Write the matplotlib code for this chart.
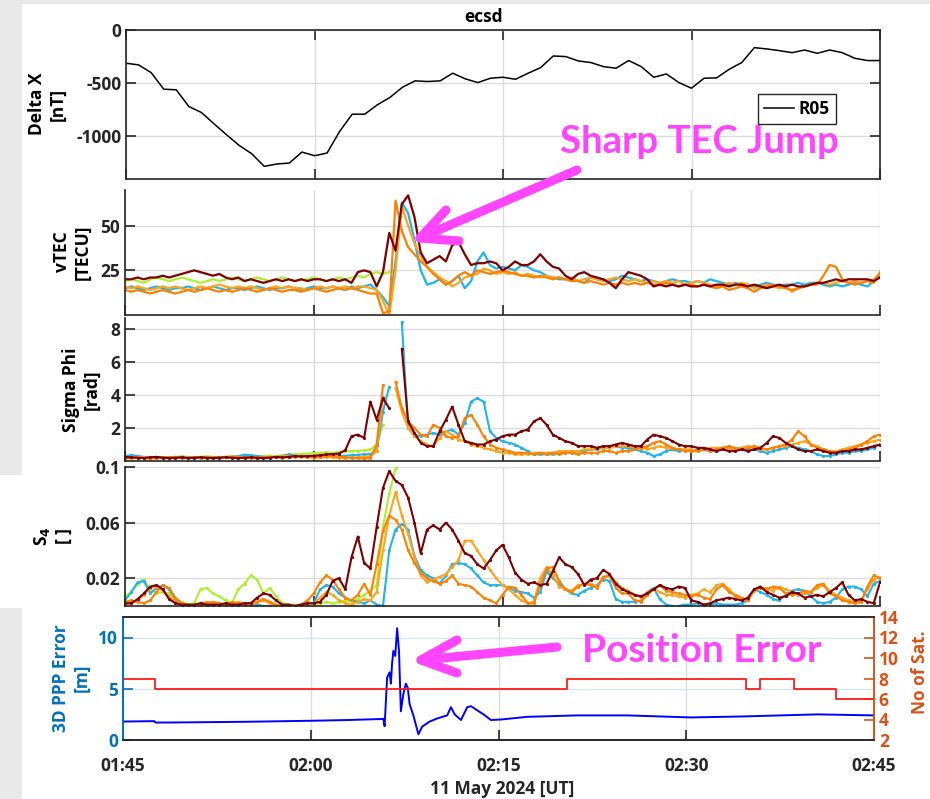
import numpy as np
import matplotlib
matplotlib.use("Agg")
import matplotlib.pyplot as plt
from matplotlib.lines import Line2D
from matplotlib.patches import Rectangle

plt.rcParams['font.family'] = ['Open Sans', 'DejaVu Sans']
plt.rcParams['font.weight'] = 'bold'
plt.rcParams['axes.unicode_minus'] = False

nan = np.nan

# ---------------- data ----------------
tick_minutes = [0, 15, 30, 45, 60]
tick_labels = ['01:45', '02:00', '02:15', '02:30', '02:45']

# magnetometer Delta X (nT), one value per minute from 01:45
dx_minutes = list(range(61))
dx_nT = [-312, -328, -400, -556, -562, -719, -775, -881, -984, -1084,
         -1162, -1281, -1259, -1250, -1147, -1181, -1156, -953, -791, -791,
         -703, -634, -538, -478, -484, -478, -406, -459, -494, -453,
         -444, -463, -406, -353, -244, -250, -291, -306, -344, -359,
         -287, -344, -444, -413, -494, -547, -453, -450, -369, -306,
         -166, -178, -194, -213, -188, -219, -188, -213, -266, -287, -287]

# satellite traces sampled every 30 s from 01:45
sample_minutes = np.arange(121) * 0.5

tec_green = [19, 20, 19, 18, 20, 21, 20, 19, 20, 21, 20, 19, 18, 19, 20, 19, 20, 21, 20, 19,
             20, 21, 20, 19, 20, 21, 20, 19, 20, 20, 21, 20, 19, 20, 21, 20, 21, 22, 21, 23,
             24, 23, 24] + [nan] * 78
tec_blue = [15, 16, 15, 14, 15, 16, 15, 14, 15, 15, 16, 15, 14, 15, 16, 15, 14, 15, 15, 14,
            15, 16, 15, 14, 15, 15, 16, 15, 14, 15, 16, 15, 15, 16, 15, 14, 16, 15, 16, 17,
            14, 10, 5, 30, 63, 57, 42, 25, 17, 18, 20, 17, 19, 22, 15, 19, 30, 35, 28, 26,
            27, 26, 25, 28, 27, 25, 24, 22, 21, 20, 20, 21, 19, 18, 21, 20, 20, 19, 20, 22,
            21, 20, 19, 20, 19, 18, 19, 20, 19, 19, 18, 19, 18, 20, 19, 18, 17, 18, 17, 17,
            16, 17, 18, 17, 16, 17, 17, 18, 17, 18, 18, 17, 16, 17, 16, 17, 18, 17, 16, 19, 22]
tec_orange_a = [14, 13, 14, 13, 12, 13, 14, 13, 12, 13, 14, 13, 14, 15, 14, 13, 14, 13, 14, 15,
                14, 13, 14, 15, 14, 13, 14, 14, 13, 14, 15, 14, 13, 14, 15, 14, 15, 14, 13, 12,
                12, 1, 2, 64, 47, 38, 34, 30, 27, 23, 20, 17, 19, 22, 24, 22, 25, 24, 23, 24,
                25, 24, 23, 22, 22, 21, 22, 21, 20, 21, 20, 19, 19, 18, 19, 18, 17, 18, 17, 18,
                17, 18, 17, 18, 17, 17, 18, 17, 16, 17, 17, 16, 17, 16, 15, 16, 14, 15, 16, 15,
                13, 15, 16, 17, 16, 15, 14, 15, 16, 17, 17, 22, 28, 27, 20, 18, 17, 18, 19, 18, 24]
tec_orange_b = [16, 15, 16, 15, 14, 15, 16, 15, 16, 15, 14, 15, 16, 15, 16, 17, 16, 15, 16, 15,
                16, 15, 14, 15, 16, 15, 16, 15, 15, 14, 15, 16, 15, 16, 15, 16, 15, 16, 16, 15,
                14, 8, 0, 25, 61, 50, 40, 33, 27, 24, 21, 19, 16, 18, 21, 22, 23, 26, 25, 23,
                24, 23, 24, 22, 23, 22, 21, 22, 21, 21, 20, 21, 19, 20, 21, 20, 19, 20, 21, 20,
                19, 20, 19, 18, 19, 18, 19, 18, 19, 17, 18, 19, 18, 17, 16, 17, 18, 17, 18, 17,
                15, 16, 17, 16, 15, 16, 13, 15, 16, 17, 18, 18, 17, 18, 19, 18, 19, 18, 19, 20, 23]
tec_darkred = [20, 20, 21, 20, 21, 21, 22, 21, 22, 23, 24, 25, 24, 23, 22, 23, 21, 20, 21, 19,
               20, 19, 18, 19, 20, 19, 20, 19, 20, 19, 20, 20, 19, 20, 19, 20, 18, 24, 25, 24,
               16, 24, 46, 36, 62, 67, 55, 35, 29, 31, 33, 30, 39, 41, 34, 28, 29, 29, 30, 29,
               25, 27, 30, 28, 28, 30, 34, 30, 27, 26, 22, 20, 23, 24, 22, 21, 20, 18, 15, 20,
               24, 23, 22, 20, 16, 17, 16, 17, 16, 17, 16, 16, 17, 16, 17, 17, 16, 17, 17, 16,
               17, 16, 15, 16, 17, 16, 17, 16, 16, 17, 18, 18, 19, 20, 19, 20, 20, 20, 20, 19, 21]

sig_green = [.25, .22, .20, .22, .25, .22, .20, .22, .25, .28, .25, .22, .25, .28, .25, .22, .25, .28, .30, .28,
             .30, .28, .30, .32, .30, .35, .38, .40, .42, .45, .48, .50, .52, .50, .55, .58, .60, .62, .65, .70,
             1.0, 2.2] + [nan] * 79
sig_blue = [.30, .35, .30, .25, .22, .25, .22, .20, .22, .25, .22, .20, .22, .20, .22, .25, .22, .25, .30, .38,
            .35, .30, .25, .22, .25, .30, .40, .32, .28, .25, .30, .32, .30, .28, .30, .32, .35, .38, .40, .42,
            .60, 3.0, 4.5, nan, 8.4, 2.0, 1.6, 1.5, 1.6, 1.7, 1.6, 1.8, 1.9, 1.6, 2.3, 3.6, 3.8, 3.6, 1.8, 1.4,
            1.2, 1.1, 1.0, 0.8, 0.6, 0.4, 0.4, 0.4, 0.4, 0.5, 0.5, 0.5, 0.6, 0.6, 0.7, 0.7, 0.8, 0.9, 0.9, 0.8,
            0.8, 0.7, 0.6, 0.5, 0.3, 0.4, 0.6, 0.7, 0.6, 0.7, 0.6, 0.7, 0.7, 0.6, 0.7, 0.8, 0.8, 0.7, 0.8, 0.7,
            0.7, 0.6, 0.5, 0.6, 0.7, 0.8, 0.9, 0.8, 0.7, 0.6, 0.4, 0.3, 0.3, 0.4, 0.5, 0.5, 0.6, 0.6, 0.7, 0.8, 1.0]
sig_orange_a = [.15, .18, .20, .18, .15, .18, .20, .22, .20, .18, .20, .22, .20, .18, .20, .22, .25, .22, .20, .22,
                .20, .18, .22, .25, .22, .20, .22, .25, .28, .25, .22, .25, .28, .30, .25, .22, .20, .18, .15, .18,
                1.0, 4.6, nan, 4.8, 3.2, 2.4, 2.0, 1.6, 1.5, 2.2, 2.0, 1.5, 1.4, 1.5, 2.6, 2.8, 2.2, 1.5, 1.0, 0.8,
                0.7, 0.6, 0.5, 0.5, 0.5, 0.4, 0.5, 0.4, 0.5, 0.4, 0.5, 0.5, 0.4, 0.5, 0.5, 0.5, 0.6, 0.6, 0.5, 0.6,
                0.6, 0.7, 0.8, 0.9, 1.1, 1.2, 1.0, 0.8, 0.7, 0.6, 0.6, 0.6, 0.7, 0.6, 0.7, 0.8, 0.9, 0.8, 0.7, 0.8,
                0.9, 0.8, 0.7, 0.8, 0.9, 1.0, 1.3, 1.8, 1.5, 1.0, 0.8, 0.7, 0.6, 0.5, 0.6, 0.7, 0.8, 1.0, 1.2, 1.5, 1.6]
sig_orange_b = [.20, .22, .25, .22, .20, .18, .20, .22, .25, .22, .20, .22, .25, .22, .20, .22, .25, .28, .25, .22,
                .25, .22, .20, .22, .25, .28, .30, .28, .25, .22, .20, .22, .25, .22, .20, .18, .20, .22, .25, .30,
                0.6, 3.9, nan, 4.4, 3.0, 2.0, 1.5, 1.2, 1.0, 0.9, 1.4, 1.8, 1.6, 1.3, 1.2, 1.0, 0.9, 0.8, 0.7, 0.6,
                0.5, 0.5, 0.4, 0.4, 0.4, 0.5, 0.5, 0.5, 0.5, 0.6, 0.6, 0.6, 0.6, 0.7, 0.7, 0.8, 0.8, 0.8, 0.9, 0.9,
                0.9, 0.8, 0.8, 0.7, 0.8, 0.9, 0.8, 0.8, 0.7, 0.7, 0.7, 0.6, 0.7, 0.8, 0.8, 0.8, 0.7, 0.7, 0.8, 0.9,
                0.8, 0.7, 0.7, 0.8, 0.9, 0.9, 1.0, 1.1, 1.2, 1.0, 0.9, 0.7, 0.6, 0.6, 0.7, 0.8, 0.9, 1.0, 1.1, 1.2, 1.3]
sig_darkred = [.25, .22, .20, .18, .22, .25, .20, .18, .20, .22, .18, .20, .22, .20, .18, .20, .22, .20, .18, .20,
               .22, .20, .18, .20, .25, .22, .25, .30, .28, .30, .32, .35, .40, .42, .45, .65, 1.5, 1.6, 1.4, 3.6,
               2.5, 3.8, 3.2, nan, 6.8, 2.4, 1.7, 1.1, 0.9, 0.9, 1.8, 2.5, 3.3, 2.2, 1.2, 1.1, 1.0, 1.0, 1.2, 1.3,
               1.5, 1.6, 1.6, 1.8, 1.9, 2.4, 2.6, 2.2, 1.6, 1.4, 1.2, 1.1, 0.9, 0.9, 0.9, 0.8, 0.9, 0.9, 1.0, 1.1,
               1.0, 0.9, 0.9, 1.3, 1.6, 1.5, 1.4, 1.2, 1.0, 0.9, 0.9, 0.8, 0.8, 0.7, 0.6, 0.7, 0.6, 0.6, 0.7, 0.6,
               0.7, 0.8, 1.1, 1.5, 1.4, 1.1, 0.9, 0.7, 0.6, 0.6, 0.7, 0.6, 0.5, 0.5, 0.6, 0.6, 0.7, 0.7, 0.8, 0.9, 1.0]

s4_green = [.007, .010, .016, .019, .012, .009, .010, .009, .005, .003, .001, .002, .012, .013, .009, .007, .004, .002, .012, .016,
            .022, .019, .009, .013, .007, .002, .001, .000, .001, .002, .001, .002, .003, .002, .003, .004, .003, .005, .008, .011,
            .015, .057, .081, .099] + [nan] * 77
s4_blue = [.004, .010, .017, .018, .009, .013, .015, .012, .005, .001, .000, .000, .001, .000, .000, .001, .000, .000, .000, .001,
           .000, .001, .000, .000, .001, .000, .000, .000, .001, .000, .002, .012, .015, .014, .009, .006, .004, .003, .002, .004,
           .001, .000, .040, .055, .059, .055, .036, .026, .022, .020, .016, .022, .030, .031, .030, .027, .022, .017, .015, .015,
           .015, .013, .011, .010, .009, .006, .010, .025, .020, .016, .012, .009, .008, .011, .013, .015, .019, .018, .005, .003,
           .003, .003, .004, .010, .013, .005, .001, .000, .000, .001, .001, .002, .001, .001, .002, .001, .001, .001, .002, .004,
           .012, .010, .008, .005, .004, .008, .011, .012, .011, .007, .003, .002, .003, .006, .012, .014, .014, .012, .007, .016, .018]
s4_orange_a = [.003, .004, .003, .002, .004, .010, .015, .013, .006, .002, .001, .000, .001, .002, .003, .002, .001, .003, .002, .001,
               .002, .003, .005, .003, .001, .000, .001, .000, .001, .004, .009, .017, .022, .019, .012, .006, .004, .008, .016, .008,
               .030, .054, .065, .062, .055, .040, .031, .024, .020, .018, .016, .018, .022, .016, .015, .014, .010, .006, .004, .002,
               .008, .014, .013, .008, .002, .002, .015, .027, .028, .018, .012, .010, .014, .016, .015, .013, .021, .022, .013, .009,
               .009, .004, .003, .008, .012, .015, .011, .010, .009, .008, .007, .008, .006, .005, .012, .015, .010, .008, .006, .004,
               .012, .013, .012, .014, .013, .009, .008, .009, .011, .010, .015, .016, .009, .007, .004, .003, .002, .003, .014, .022, .020]
s4_orange_b = [.001, .002, .004, .008, .013, .014, .011, .007, .003, .001, .000, .000, .002, .003, .002, .001, .000, .001, .003, .002,
               .001, .003, .004, .002, .001, .000, .000, .001, .000, .001, .002, .006, .010, .008, .004, .002, .001, .003, .005, .004,
               .010, .040, .065, .082, .065, .052, .035, .022, .017, .019, .021, .023, .028, .033, .047, .047, .040, .033, .026, .020,
               .015, .012, .008, .004, .002, .003, .020, .028, .022, .014, .012, .011, .015, .016, .016, .014, .020, .022, .017, .013,
               .011, .008, .006, .010, .012, .010, .008, .008, .007, .006, .008, .009, .012, .010, .015, .016, .012, .007, .005, .004,
               .011, .013, .013, .011, .014, .012, .010, .008, .009, .010, .013, .015, .011, .008, .006, .004, .003, .004, .012, .019, .021]
s4_darkred = [.002, .002, .005, .009, .014, .015, .012, .005, .002, .001, .001, .001, .002, .001, .001, .001, .002, .001, .001, .002,
              .002, .006, .009, .008, .004, .001, .001, .000, .001, .002, .002, .003, .008, .018, .020, .012, .035, .050, .031, .027,
              .057, .085, .097, .090, .087, .078, .060, .038, .055, .058, .055, .060, .055, .047, .038, .036, .030, .027, .033, .040,
              .044, .035, .024, .019, .016, .017, .015, .016, .025, .035, .030, .028, .023, .015, .019, .020, .026, .023, .016, .012,
              .010, .008, .007, .009, .012, .015, .013, .012, .014, .013, .004, .003, .001, .002, .004, .005, .006, .005, .004, .006,
              .012, .014, .010, .008, .006, .007, .010, .009, .006, .007, .008, .007, .010, .013, .017, .008, .004, .005, .003, .002, .017]

# 3D PPP position error (m)
ppp_minutes = [0, 2.5, 2.6, 5, 10, 15.2, 18, 20.7, 20.8, 20.9, 21.1, 21.3, 21.4, 21.5, 21.6, 21.75,
               21.9, 22.05, 22.2, 22.4, 22.6, 22.75, 22.9, 23.2, 23.6, 23.9, 24.5, 25.1, 25.9, 26.2,
               26.5, 27.0, 27.5, 27.8, 28.3, 28.8, 29.4, 30.2, 32.3, 36.3, 40.3, 45.4, 49.6, 55.5, 60]
ppp_error = [1.80, 1.84, 1.70, 1.72, 1.78, 1.88, 1.95, 2.05, 2.07, 1.35, 6.1, 6.6, 5.5, 7.5, 8.7, 8.2,
             10.9, 8.7, 2.8, 4.5, 5.5, 5.1, 3.5, 2.4, 0.55, 1.3, 1.8, 2.1, 2.4, 3.2,
             2.5, 1.95, 3.2, 3.3, 2.9, 2.5, 1.95, 2.0, 2.26, 2.4, 2.4, 2.2, 2.3, 2.5, 2.4]

# number of satellites used
sat_minutes = [0, 2.56, 35.5, 49.8, 50.9, 53.6, 57.0, 60]
sat_count = [8, 7, 8, 7, 8, 7, 6, 6]

# ---------------- styling ----------------
W, H = 930, 799
INK = '#262626'
GRID = '#dcdcdc'
MAGENTA = '#ff45ff'
C_GREEN = '#adf02f'
C_BLUE = '#1eb4f0'
C_ORA = '#ff7f00'
C_ORB = '#ffa31a'
C_DRED = '#7f0000'
C_LEFT = '#0072BD'
C_RIGHT = '#D95319'
TICK_FS = 12.5


def fx(x):
    return x / W


def fy(y):
    return 1 - y / H


def rect(l, t, r, b):
    return [l / W, 1 - b / H, (r - l) / W, (b - t) / H]


def style(ax, box):
    ax.set_xlim(0, 60)
    ax.set_xticks(tick_minutes)
    ax.grid(True, color=GRID, lw=1.0)
    ax.set_axisbelow(True)
    ax.spines['top'].set_visible(box)
    ax.spines['right'].set_visible(box)
    for s in ax.spines.values():
        s.set_color(INK)
        s.set_linewidth(1.2)
    ax.tick_params(direction='in', length=7, width=1.2, color=INK,
                   labelsize=TICK_FS, labelcolor=INK, top=box, right=box,
                   labelbottom=False)


fig = plt.figure(figsize=(W / 100, H / 100), dpi=100)
fig.patch.set_facecolor('white')

# light grey frame strips
GREY = '#e9e9e9'
for (l, t, r, b) in [(0, 0, 22, 475), (0, 608, 22, 799), (0, 0, 930, 4)]:
    fig.add_artist(Rectangle((fx(l), fy(b)), (r - l) / W, (b - t) / H,
                             transform=fig.transFigure, facecolor=GREY,
                             edgecolor='none', zorder=-10))

# ---- panel 1: Delta X
ax1 = fig.add_axes(rect(126, 30, 880, 179))
style(ax1, True)
ax1.plot(dx_minutes, dx_nT, color='black', lw=1.1, label='R05')
ax1.set_ylim(-1400, 0)
ax1.set_yticks([-1000, -500, 0])
leg = ax1.legend(loc='upper left', bbox_to_anchor=(fx(758), fy(94)),
                 bbox_transform=fig.transFigure, fancybox=False,
                 edgecolor=INK, framealpha=1, borderpad=0.35,
                 handlelength=1.7, handletextpad=0.3, borderaxespad=0,
                 prop={'size': 12.5, 'weight': 'bold'})
leg.get_frame().set_linewidth(1.0)
fig.text(fx(484), fy(17), 'ecsd', ha='center', va='center',
         fontsize=12.5, fontweight='bold', color='black')

# ---- panel 2: vTEC
ax2 = fig.add_axes(rect(125, 190, 880, 315))
style(ax2, False)
for vals, col in [(tec_green, C_GREEN), (tec_blue, C_BLUE), (tec_orange_b, C_ORB),
                  (tec_orange_a, C_ORA), (tec_darkred, C_DRED)]:
    ax2.plot(sample_minutes, vals, color=col, lw=1.6)
ax2.set_ylim(0, 70)
ax2.set_yticks([25, 50])

# ---- panel 3: Sigma Phi
ax3 = fig.add_axes(rect(125, 318, 880, 461))
style(ax3, False)
for vals, col in [(sig_green, C_GREEN), (sig_blue, C_BLUE), (sig_orange_b, C_ORB),
                  (sig_orange_a, C_ORA), (sig_darkred, C_DRED)]:
    ax3.plot(sample_minutes, vals, color=col, lw=1.5, marker='.', ms=2.5)
ax3.set_ylim(0, 8.67)
ax3.set_yticks([2, 4, 6, 8])

# ---- panel 4: S4
ax4 = fig.add_axes(rect(125, 467, 880, 606))
style(ax4, False)
for vals, col in [(s4_green, C_GREEN), (s4_blue, C_BLUE), (s4_orange_b, C_ORB),
                  (s4_orange_a, C_ORA), (s4_darkred, C_DRED)]:
    ax4.plot(sample_minutes, vals, color=col, lw=1.5, marker='.', ms=2.5)
ax4.set_ylim(0, 0.1)
ax4.set_yticks([0.02, 0.06, 0.1])
ax4.set_yticklabels(['0.02', '0.06', '0.1'])

# ---- panel 5: PPP error and number of satellites
ax5 = fig.add_axes(rect(123, 617, 874, 740))
ax5.set_xlim(0, 60)
ax5.set_xticks(tick_minutes)
ax5.set_xticklabels(tick_labels)
ax5.xaxis.grid(True, color=GRID, lw=1.0)
ax5.yaxis.grid(True, color='#d6e7f4', lw=1.0)
ax5.set_axisbelow(True)
ax5.plot(ppp_minutes, ppp_error, color='#0000ff', lw=1.4, zorder=3)
ax5.set_ylim(0, 12)
ax5.set_yticks([0, 5, 10])
ax5.tick_params(axis='x', direction='in', length=7, width=1.2, color=INK,
                labelsize=TICK_FS, labelcolor=INK, top=True, pad=12)
ax5.tick_params(axis='y', direction='in', length=7, width=1.2, colors=C_LEFT,
                labelsize=TICK_FS)
ax5r = ax5.twinx()
ax5r.step(sat_minutes, sat_count, where='post', color='#ff1a1a', lw=1.3)
ax5r.set_ylim(2, 14)
ax5r.set_yticks(range(2, 15, 2))
ax5r.tick_params(axis='y', direction='in', length=7, width=1.2, colors=C_RIGHT,
                 labelsize=TICK_FS)
for a in (ax5, ax5r):
    for s in a.spines.values():
        s.set_linewidth(1.2)
    a.spines['top'].set_color(INK)
    a.spines['bottom'].set_color(INK)
    a.spines['left'].set_color(C_LEFT)
    a.spines['right'].set_color(C_RIGHT)

# ---- axis titles
lab = dict(rotation=90, ha='center', va='center', fontsize=12.5,
           fontweight='bold', multialignment='center')
fig.text(fx(47), fy(104), 'Delta X\n[nT]', color='black', **lab)
fig.text(fx(72), fy(252), 'vTEC\n[TECU]', color='black', **lab)
fig.text(fx(81), fy(390), 'Sigma Phi\n[rad]', color='black', **lab)
fig.text(fx(52), fy(536), 'S$_4$\n[ ]', color='black', **lab)
fig.text(fx(71), fy(678), '3D PPP Error\n[m]', color=C_LEFT, **lab)
fig.text(fx(920), fy(672), 'No of Sat.', color=C_RIGHT, **lab)
fig.text(fx(502), fy(789), '11 May 2024 [UT]', ha='center', va='center',
         fontsize=12.5, fontweight='bold', color=INK)

# ---- callouts
fig.text(fx(560), fy(153), 'Sharp TEC Jump', ha='left', va='baseline',
         fontsize=27.5, fontweight='bold', color=MAGENTA, family='Lato')
fig.text(fx(582), fy(662), 'Position Error', ha='left', va='baseline',
         fontsize=28, fontweight='bold', color=MAGENTA, family='Lato')


def arrow(tail, tip, arm1, arm2):
    kw = dict(transform=fig.transFigure, color=MAGENTA, lw=6.5,
              solid_capstyle='round', solid_joinstyle='round', zorder=20)
    fig.add_artist(Line2D([fx(tail[0]), fx(tip[0])], [fy(tail[1]), fy(tip[1])], **kw))
    fig.add_artist(Line2D([fx(arm1[0]), fx(tip[0]), fx(arm2[0])],
                          [fy(arm1[1]), fy(tip[1]), fy(arm2[1])], **kw))


arrow((577, 170), (420, 238), (446, 210), (459, 241))
arrow((557, 647), (421, 660), (457, 640), (457, 673))

fig.savefig('out.png', dpi=100, facecolor='white')
